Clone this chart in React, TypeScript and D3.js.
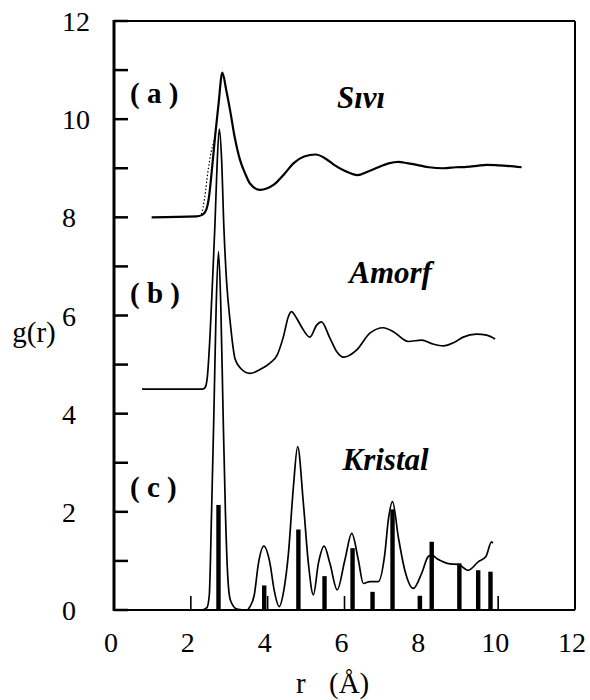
import React from "react";
import * as d3 from "d3";

const W = 590;
const H = 700;

// Liquid (Sıvı) g(r) + 8 offset
const liquidR = [0.98, 2.15, 2.3, 2.4, 2.47, 2.54, 2.63, 2.72, 2.82, 2.92, 3.02, 3.15, 3.28, 3.41, 3.54, 3.8, 4.15, 4.45, 4.67, 4.95, 5.25, 5.5, 5.71, 6.0, 6.34, 6.6, 6.88, 7.15, 7.4, 7.65, 7.88, 8.2, 8.57, 8.9, 9.18, 9.45, 9.7, 10.0, 10.22, 10.61];
const liquidG = [8.0, 8.02, 8.05, 8.15, 8.4, 8.9, 9.64, 10.3, 10.95, 10.6, 10.19, 9.6, 9.17, 8.9, 8.69, 8.56, 8.66, 8.9, 9.1, 9.24, 9.28, 9.2, 9.08, 8.95, 8.86, 8.93, 9.02, 9.1, 9.13, 9.1, 9.07, 9.02, 9.0, 9.02, 9.03, 9.05, 9.07, 9.06, 9.05, 9.02];

// Dotted companion curve on the rising edge of the liquid peak
const dottedR = [2.2, 2.28, 2.36, 2.45, 2.52, 2.6, 2.66];
const dottedG = [8.02, 8.08, 8.4, 8.96, 9.3, 9.55, 9.75];

// Amorphous (Amorf) g(r) + 4.5 offset
const amorphR = [0.73, 2.3, 2.37, 2.43, 2.5, 2.57, 2.63, 2.68, 2.74, 2.8, 2.86, 2.93, 3.02, 3.15, 3.3, 3.54, 3.8, 4.06, 4.25, 4.41, 4.54, 4.62, 4.75, 4.88, 5.1, 5.28, 5.4, 5.62, 5.8, 5.97, 6.32, 6.66, 7.01, 7.27, 7.66, 8.01, 8.3, 8.57, 8.85, 9.09, 9.44, 9.7, 9.92];
const amorphG = [4.5, 4.5, 4.53, 4.75, 5.6, 6.8, 7.9, 9.0, 9.8, 9.2, 7.8, 6.7, 5.9, 5.12, 4.92, 4.82, 4.9, 5.03, 5.2, 5.57, 5.98, 6.08, 5.95, 5.77, 5.56, 5.81, 5.87, 5.54, 5.26, 5.15, 5.3, 5.64, 5.75, 5.67, 5.47, 5.5, 5.42, 5.38, 5.45, 5.56, 5.62, 5.6, 5.52];

// Crystal (Kristal) broadened g(r)
const crystR = [2.3, 2.42, 2.48, 2.54, 2.6, 2.66, 2.72, 2.78, 2.84, 2.9, 2.96, 3.03, 3.2, 3.45, 3.54, 3.65, 3.76, 3.9, 4.06, 4.17, 4.3, 4.42, 4.54, 4.67, 4.78, 4.93, 5.06, 5.19, 5.32, 5.47, 5.62, 5.81, 6.01, 6.19, 6.36, 6.49, 6.66, 6.88, 7.05, 7.14, 7.25, 7.4, 7.57, 7.79, 8.01, 8.18, 8.27, 8.4, 8.75, 8.96, 9.22, 9.48, 9.68, 9.83, 9.86];
const crystG = [0.0, 0.05, 0.3, 2.0, 4.0, 6.2, 7.3, 6.2, 4.0, 2.0, 0.7, 0.2, 0.02, 0.0, 0.07, 0.3, 0.95, 1.3, 0.95, 0.4, 0.07, 0.4, 1.15, 2.51, 3.33, 2.17, 0.95, 0.31, 0.95, 1.3, 0.95, 0.41, 1.02, 1.56, 1.02, 0.54, 0.58, 0.58, 1.15, 1.83, 2.21, 1.49, 0.81, 0.44, 0.75, 1.09, 1.12, 1.05, 0.94, 0.93, 0.81, 0.98, 1.09, 1.39, 1.36];

// Crystal neighbour shells (bars)
const barR = [2.72, 3.91, 4.8, 5.48, 6.21, 6.73, 7.25, 7.96, 8.27, 8.99, 9.48, 9.8];
const barG = [2.14, 0.5, 1.64, 0.69, 1.26, 0.37, 2.05, 0.29, 1.39, 0.95, 0.81, 0.78];

const xTicks = [0, 2, 4, 6, 8, 10, 12];
const yTicks = [0, 2, 4, 6, 8, 10, 12];
const yMinor = d3.range(0, 13, 1);
const xInner = [2, 4, 6, 8, 10];

const panelLabels = ["( a )", "( b )", "( c )"];
const panelLabelY = [10.53, 6.46, 2.5];
const phaseNames = ["Sıvı", "Amorf", "Kristal"];
const phaseX = [6.43, 7.2, 7.07];
const phaseY = [10.23, 6.66, 2.85];

export default function App() {
  const x = d3.scaleLinear().domain([0, 12]).range([114, 575]);
  const y = d3.scaleLinear().domain([0, 12]).range([610, 21]);
  const mk = (rs: number[], gs: number[]) =>
    d3
      .line<number>()
      .x((_, i) => x(rs[i]))
      .y((_, i) => y(gs[i]))
      .curve(d3.curveMonotoneX)(rs.map((_, i) => i)) as string;

  const serif = "'Liberation Serif', 'DejaVu Serif', serif";
  return (
    <svg width={W} height={H} style={{ position: "absolute", left: 0, top: 0, background: "#fff" }}>
      <rect x={0} y={0} width={W} height={H} fill="#fff" />
      {/* curves */}
      <path d={mk(liquidR, liquidG)} fill="none" stroke="#000" strokeWidth={2.2} />
      <path d={mk(dottedR, dottedG)} fill="none" stroke="#000" strokeWidth={1.2} strokeDasharray="1.5,2" />
      <path d={mk(amorphR, amorphG)} fill="none" stroke="#000" strokeWidth={1.7} />
      <path d={mk(crystR, crystG)} fill="none" stroke="#000" strokeWidth={1.7} />
      {/* bars */}
      {barR.map((r, i) => (
        <rect key={i} x={x(r) - 2.2} y={y(barG[i])} width={4.4} height={y(0) - y(barG[i])} fill="#000" />
      ))}
      {/* ticks */}
      {yMinor.map((v) => (
        <line key={"yt" + v} x1={114} x2={128} y1={y(v)} y2={y(v)} stroke="#000" strokeWidth={2.5} />
      ))}
      {xInner.map((v) => (
        <line key={"xt" + v} x1={x(v)} x2={x(v)} y1={610} y2={596} stroke="#000" strokeWidth={1.6} />
      ))}
      {/* frame */}
      <line x1={114} x2={575} y1={21} y2={21} stroke="#000" strokeWidth={2} />
      <line x1={114} x2={575} y1={610} y2={610} stroke="#000" strokeWidth={2} />
      <line x1={575} x2={575} y1={21} y2={610} stroke="#000" strokeWidth={2} />
      <line x1={114} x2={114} y1={20} y2={611} stroke="#000" strokeWidth={3} />
      {/* tick labels */}
      {yTicks.map((v) => (
        <text key={"yl" + v} x={62} y={y(v) + 10} fontFamily={serif} fontSize={28} fill="#000">
          {v}
        </text>
      ))}
      {xTicks.map((v) => (
        <text key={"xl" + v} x={x(v) - 3} y={652} textAnchor="middle" fontFamily={serif} fontSize={28} fill="#000">
          {v}
        </text>
      ))}
      {/* axis titles */}
      <text x={34} y={342} textAnchor="middle" fontFamily={serif} fontSize={29} fill="#000">
        g(r)
      </text>
      <text x={296} y={693} fontFamily={serif} fontSize={29} fill="#000">
        r
        <tspan x={329}>(Å)</tspan>
      </text>
      {/* panel labels */}
      {panelLabels.map((t, i) => (
        <text key={t} x={130} y={y(panelLabelY[i]) + 10} fontFamily={serif} fontSize={29} fontWeight="bold" fill="#000" style={{ whiteSpace: "pre" }}>
          {t}
        </text>
      ))}
      {phaseNames.map((t, i) => (
        <text key={t} x={x(phaseX[i])} y={y(phaseY[i])} textAnchor="middle" fontFamily={serif} fontSize={31} fontWeight="bold" fontStyle="italic" fill="#000">
          {t}
        </text>
      ))}
    </svg>
  );
}
